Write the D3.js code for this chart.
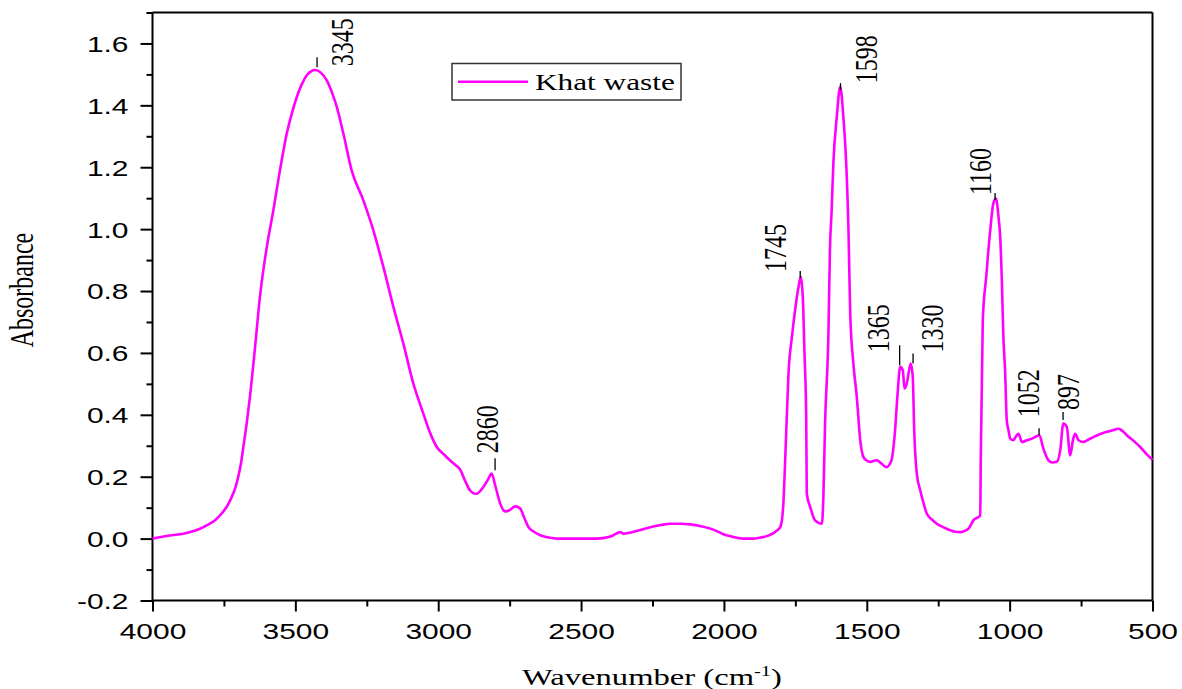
<!DOCTYPE html>
<html>
<head>
<meta charset="utf-8">
<script src="https://cdn.jsdelivr.net/npm/d3@7"></script>
<style>
  html, body { margin: 0; padding: 0; background: #fff; }
  svg { display: block; }
</style>
</head>
<body>
<svg id="chart" width="1182" height="689"></svg>
<script>
// ---------------- DATA ----------------
const wavenumber = [
  4000, 3940, 3892, 3850, 3810, 3780, 3758, 3740, 3723, 3710, 3700, 3690, 3682, 3670, 3659, 3641, 3624, 3600,
  3577, 3554, 3530, 3512, 3495, 3478, 3460, 3445, 3431, 3410, 3390, 3372, 3355, 3332, 3303, 3262, 3227, 3192,
  3157, 3122, 3087, 3052, 3030, 3005, 2980, 2959, 2940, 2924, 2905, 2889, 2875, 2865, 2855, 2842, 2825, 2813,
  2800, 2783, 2766, 2750, 2731, 2713, 2700, 2684, 2665, 2643, 2615, 2585, 2500, 2445, 2400, 2387, 2363, 2352,
  2300, 2258, 2220, 2188, 2150, 2118, 2080, 2037, 2015, 2002, 1970, 1932, 1900, 1879, 1850, 1827, 1810, 1803,
  1797, 1792, 1786, 1780, 1774, 1762, 1751, 1739, 1731, 1724, 1718, 1712, 1710, 1698, 1681, 1657, 1652, 1646,
  1634, 1629, 1623, 1617, 1605, 1593, 1582, 1572, 1564, 1558, 1547, 1535, 1523, 1512, 1500, 1488, 1465, 1448,
  1432, 1420, 1412, 1401, 1393, 1383, 1374, 1368, 1360, 1354, 1346, 1339, 1334, 1325, 1313, 1300, 1290, 1270,
  1255, 1230, 1208, 1190, 1173, 1160, 1144, 1127, 1103, 1101, 1094, 1082, 1068, 1057, 1048, 1039, 1033, 1027,
  1022, 1016, 1010, 1004, 998, 987, 978, 969, 957, 940, 922, 896, 882, 864, 850, 835, 823, 812, 800, 788, 778,
  771, 759, 742, 720, 707, 685, 660, 640, 619, 605, 590, 565, 543, 520, 500
];
const absorbance = [
  0.000, 0.010, 0.016, 0.026, 0.043, 0.060, 0.081, 0.103, 0.134, 0.165, 0.199, 0.245, 0.296, 0.375, 0.458, 0.619, 0.781, 0.942,
  1.061, 1.190, 1.309, 1.375, 1.427, 1.467, 1.497, 1.510, 1.514, 1.505, 1.481, 1.442, 1.395, 1.309, 1.190, 1.093, 0.996, 0.878,
  0.749, 0.630, 0.501, 0.404, 0.345, 0.296, 0.272, 0.253, 0.238, 0.224, 0.185, 0.156, 0.146, 0.145, 0.152, 0.167, 0.192, 0.210,
  0.170, 0.113, 0.088, 0.092, 0.104, 0.097, 0.070, 0.037, 0.022, 0.011, 0.004, 0.000, 0.000, 0.000, 0.006, 0.011, 0.021, 0.016,
  0.026, 0.037, 0.044, 0.048, 0.048, 0.046, 0.040, 0.029, 0.020, 0.014, 0.006, 0.000, 0.000, 0.002, 0.008, 0.018, 0.030, 0.037,
  0.060, 0.113, 0.245, 0.393, 0.533, 0.652, 0.738, 0.813, 0.846, 0.781, 0.598, 0.393, 0.145, 0.102, 0.059, 0.048, 0.134, 0.372,
  0.673, 0.932, 1.061, 1.212, 1.363, 1.460, 1.363, 1.212, 0.996, 0.727, 0.566, 0.458, 0.318, 0.264, 0.252, 0.248, 0.253, 0.242,
  0.231, 0.240, 0.259, 0.350, 0.458, 0.555, 0.544, 0.485, 0.501, 0.533, 0.566, 0.522, 0.350, 0.210, 0.156, 0.110, 0.081, 0.060,
  0.048, 0.036, 0.027, 0.022, 0.021, 0.024, 0.032, 0.059, 0.075, 0.264, 0.706, 0.846, 0.996, 1.083, 1.099, 1.040, 0.975, 0.824,
  0.652, 0.544, 0.382, 0.350, 0.323, 0.318, 0.330, 0.339, 0.312, 0.318, 0.323, 0.334, 0.291, 0.253, 0.246, 0.248, 0.285, 0.372, 0.361, 0.269, 0.320,
  0.339, 0.318, 0.312, 0.322, 0.328, 0.337, 0.345, 0.350, 0.355, 0.348, 0.334, 0.315, 0.296, 0.272, 0.255
];

const seriesName = "Khat waste";

const peakLabels = ["3345", "2860", "1745", "1598", "1365", "1330", "1160", "1052", "897"];
const peakWavenumber = [3424, 2801, 1733, 1592, 1385, 1338, 1051, 897, 813];
const peakAbsorbance = [1.523, 0.221, 0.842, 1.449, 0.560, 0.566, 1.094, 0.334, 0.383];

const xTickValues = [4000, 3500, 3000, 2500, 2000, 1500, 1000, 500];
const xMinorValues = [3750, 3250, 2750, 2250, 1750, 1250, 750];
const yTickValues = [-0.2, 0.0, 0.2, 0.4, 0.6, 0.8, 1.0, 1.2, 1.4, 1.6];
const yMinorValues = [-0.1, 0.1, 0.3, 0.5, 0.7, 0.9, 1.1, 1.3, 1.5, 1.7];

const xTitle = "Wavenumber (cm";
const xTitleSup = "-1";
const yTitle = "Absorbance";

// ---------------- LAYOUT ----------------
const SX = 1.36;           // horizontal text stretch of the reference
const mLeft = 152.5, mRight = 1152.5, mTop = 12.5, mBottom = 600.5;
const lineColor = "#ff00ff";
const serif = "'Liberation Serif', 'Times New Roman', serif";
const sans = "'Liberation Sans', Arial, sans-serif";
// label offsets relative to peak tick (dx, dy) in px
const labelOffsets = [[25, -1], [-8, -17], [-25, -6], [26, -7], [-21, -13], [19, -11], [-15, -5], [-11, -18], [5, -10]];
const peakTickLen = [10, 12, 7, 7, 20, 10, 7, 7, 8];

const svg = d3.select("#chart");
svg.append("rect").attr("width", 1182).attr("height", 689).attr("fill", "#fff");

const x = d3.scaleLinear().domain([4000, 500]).range([mLeft, mRight]);
const y = d3.scaleLinear().domain([-0.2, 1.7]).range([mBottom, mTop]);

// frame top & right
svg.append("line").attr("x1", mLeft).attr("x2", mRight).attr("y1", mTop).attr("y2", mTop)
  .attr("stroke", "#000").attr("stroke-width", 2);
svg.append("line").attr("x1", mRight).attr("x2", mRight).attr("y1", mTop).attr("y2", mBottom)
  .attr("stroke", "#000").attr("stroke-width", 2);

// minor axes
svg.append("g").attr("transform", `translate(${mLeft},0)`)
  .call(d3.axisLeft(y).tickValues(yMinorValues).tickSize(6).tickSizeOuter(0).tickFormat(""))
  .call(g => g.select(".domain").remove())
  .call(g => g.selectAll("line").attr("stroke-width", 2));
svg.append("g").attr("transform", `translate(0,${mBottom})`)
  .call(d3.axisBottom(x).tickValues(xMinorValues).tickSize(6).tickSizeOuter(0).tickFormat(""))
  .call(g => g.select(".domain").remove())
  .call(g => g.selectAll("line").attr("stroke-width", 2));

// major y axis
const gy = svg.append("g").attr("transform", `translate(${mLeft},0)`)
  .call(d3.axisLeft(y).tickValues(yTickValues).tickSize(12).tickSizeOuter(0).tickFormat(d => d.toFixed(1)));
gy.select(".domain").attr("stroke-width", 2).attr("d", `M0,${mTop}V${mBottom}`);
gy.selectAll("line").attr("stroke-width", 2);
gy.selectAll("text")
  .attr("x", null).attr("dy", "0.36em")
  .attr("transform", `translate(-24,0) scale(${SX},1)`)
  .attr("text-anchor", "end")
  .style("font-family", sans).style("font-size", "22px").attr("fill", "#000");

// major x axis
const gx = svg.append("g").attr("transform", `translate(0,${mBottom})`)
  .call(d3.axisBottom(x).tickValues(xTickValues).tickSize(11).tickSizeOuter(0).tickFormat(d => String(d)));
gx.select(".domain").attr("stroke-width", 2).attr("d", `M${mLeft},0H${mRight}`);
gx.selectAll("line").attr("stroke-width", 2);
gx.selectAll("text")
  .attr("y", null).attr("dy", null)
  .attr("transform", `translate(0,38.5) scale(${SX},1)`)
  .attr("text-anchor", "middle")
  .style("font-family", sans).style("font-size", "22px").attr("fill", "#000");

// spectrum line
const pts = wavenumber.map((w, i) => [w, absorbance[i]]);
const line = d3.line().x(d => x(d[0])).y(d => y(d[1])).curve(d3.curveMonotoneX);
svg.append("path").datum(pts).attr("d", line)
  .attr("fill", "none").attr("stroke", lineColor).attr("stroke-width", 2.6)
  .attr("stroke-linejoin", "round");

// peak annotations
const ann = svg.append("g");
peakLabels.forEach((lab, i) => {
  const px = x(peakWavenumber[i]);
  const py = y(peakAbsorbance[i]);
  const tl = peakTickLen[i];
  ann.append("line").attr("x1", px).attr("x2", px).attr("y1", py).attr("y2", py - tl)
    .attr("stroke", "#000").attr("stroke-width", 1.3);
  const [dx, dy] = labelOffsets[i];
  ann.append("text")
    .attr("transform", `translate(${px + dx},${py + dy}) scale(${SX * 0.95},1) rotate(-90)`)
    .attr("dy", "0.34em")
    .attr("text-anchor", "start")
    .style("font-family", serif).style("font-size", "24px").attr("fill", "#000")
    .text(lab);
});

// legend
svg.append("rect").attr("x", 452).attr("y", 63.5).attr("width", 229).attr("height", 36.5)
  .attr("fill", "#fff").attr("stroke", "#333").attr("stroke-width", 1.5);
svg.append("line").attr("x1", 458).attr("x2", 528).attr("y1", 81.7).attr("y2", 81.7)
  .attr("stroke", lineColor).attr("stroke-width", 2.6);
svg.append("text").attr("transform", `translate(535,90) scale(${SX},1)`)
  .style("font-family", serif).style("font-size", "23px").attr("fill", "#000")
  .text(seriesName);

// axis titles
const xt = svg.append("text").attr("transform", `translate(652,685) scale(${SX},1)`)
  .attr("text-anchor", "middle")
  .style("font-family", serif).style("font-size", "24px").attr("fill", "#000");
xt.append("tspan").text(xTitle);
xt.append("tspan").attr("dy", -9).style("font-size", "15px").text(xTitleSup);
xt.append("tspan").attr("dy", 9).text(")");

svg.append("text").attr("transform", `translate(22,290) scale(${SX},1) rotate(-90)`)
  .attr("text-anchor", "middle").attr("dy", "0.34em")
  .style("font-family", serif).style("font-size", "24px").attr("fill", "#000")
  .text(yTitle);
</script>
</body>
</html>
